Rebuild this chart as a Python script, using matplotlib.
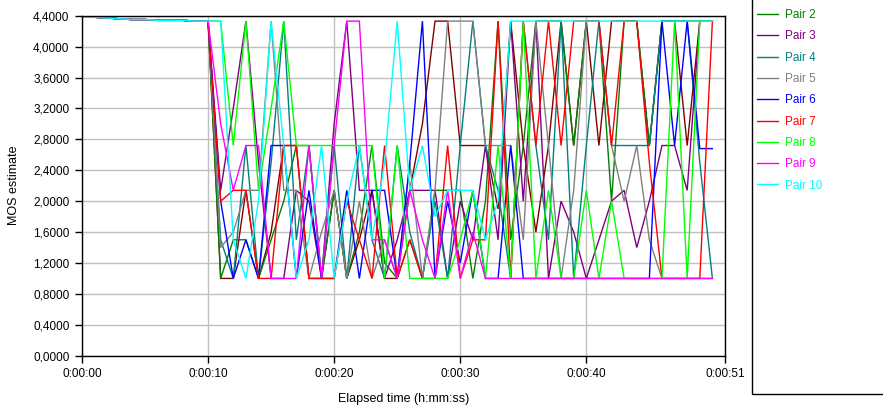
import matplotlib
matplotlib.use("Agg")
import matplotlib.pyplot as plt
from matplotlib.patches import Rectangle

# ---------------- data ----------------
times = list(range(0, 51))  # seconds
lead = [4.38, 4.38, 4.37, 4.36, 4.35, 4.35, 4.34, 4.34, 4.34, 4.33, 4.33]  # t = 0..10 (all pairs)

pair1 = [1.0, 1.0, 2.14, 1.0, 1.6, 2.72, 2.72, 1.0, 1.0, 2.14, 1.0, 1.5, 2.14, 1.0, 1.0, 2.14, 3.0, 4.33, 4.33, 2.72,
         2.72, 2.72, 1.9, 4.33, 2.72, 1.6, 2.72, 4.33, 2.72, 4.33, 2.72, 4.33, 4.33, 4.33, 2.72, 4.33, 4.33, 2.72, 4.33, 4.33]
pair2 = [1.0, 1.5, 1.5, 1.0, 1.5, 2.0, 2.72, 2.72, 1.0, 2.14, 1.0, 1.6, 2.72, 1.2, 1.0, 1.5, 1.0, 2.14, 2.14, 2.14,
         1.0, 2.0, 4.33, 1.5, 2.72, 4.33, 4.33, 4.33, 2.72, 4.33, 4.33, 2.0, 4.33, 4.33, 2.72, 4.33, 4.33, 4.33, 4.33, 4.33]
pair3 = [2.14, 3.2, 4.33, 2.5, 1.0, 1.0, 2.14, 2.0, 1.0, 3.0, 4.33, 2.14, 2.14, 1.0, 1.5, 2.14, 2.14, 2.14, 1.0, 2.0,
         1.5, 2.72, 1.5, 4.33, 2.0, 4.33, 1.0, 2.0, 1.6, 1.0, 1.5, 2.0, 2.14, 1.4, 2.0, 2.72, 2.72, 2.14, 4.33, 4.33]
pair4 = [1.5, 1.0, 2.72, 1.0, 2.5, 4.33, 1.5, 2.72, 1.0, 2.72, 1.0, 2.72, 1.5, 1.0, 2.72, 1.6, 1.0, 2.0, 1.0, 2.72,
         4.33, 2.72, 2.14, 1.0, 4.33, 2.72, 1.5, 4.33, 1.0, 2.72, 4.33, 2.72, 2.72, 2.72, 2.72, 4.33, 4.33, 4.33, 2.5, 1.0]
pair5 = [1.4, 1.6, 2.14, 2.14, 4.33, 2.14, 2.14, 1.0, 1.6, 2.14, 1.0, 2.0, 1.0, 1.5, 1.0, 2.5, 1.0, 2.14, 4.33, 4.33,
         4.33, 2.72, 2.72, 2.72, 1.5, 4.33, 2.72, 1.0, 2.14, 4.33, 4.33, 2.72, 2.0, 2.72, 1.5, 1.0, 1.0, 1.0, 1.0, 1.0]
pair6 = [2.0, 1.0, 1.5, 1.0, 2.72, 2.72, 1.0, 2.14, 1.0, 1.0, 2.14, 1.0, 2.14, 2.14, 1.0, 2.5, 4.33, 1.0, 2.0, 1.2,
         2.14, 1.0, 1.0, 2.72, 1.0, 1.0, 1.0, 1.0, 1.0, 1.0, 1.0, 1.0, 1.0, 1.0, 1.0, 4.33, 2.72, 4.33, 2.68, 2.68]
pair7 = [2.0, 2.14, 2.14, 1.0, 1.0, 2.72, 2.72, 1.0, 1.0, 1.0, 2.0, 1.5, 1.0, 2.72, 1.0, 1.5, 1.0, 1.0, 2.72, 1.0,
         1.5, 1.5, 4.33, 1.0, 4.33, 2.72, 4.33, 2.72, 4.33, 4.33, 4.33, 2.72, 4.33, 4.33, 2.5, 1.0, 1.0, 1.0, 1.0, 4.33]
pair8 = [4.33, 2.72, 4.33, 2.14, 3.2, 4.33, 2.72, 2.72, 2.72, 2.72, 2.72, 2.72, 2.72, 1.0, 2.72, 1.0, 1.0, 1.0, 1.0, 1.5,
         2.14, 1.0, 2.72, 1.0, 4.33, 1.0, 2.14, 1.0, 1.0, 2.14, 1.0, 2.0, 1.0, 1.0, 1.0, 1.0, 4.33, 1.0, 4.33, 4.33]
pair9 = [3.0, 2.14, 2.72, 2.72, 1.0, 1.0, 1.0, 2.72, 1.0, 2.72, 4.33, 4.33, 1.5, 1.5, 1.0, 2.14, 1.5, 1.0, 2.14, 1.0,
         1.6, 1.0, 1.0, 1.0, 1.0, 1.0, 1.0, 1.0, 1.0, 1.0, 1.0, 1.0, 1.0, 1.0, 1.0, 1.0, 1.0, 1.0, 1.0, 1.0]
pair10 = [4.33, 1.5, 1.0, 2.0, 4.33, 2.72, 1.0, 1.5, 2.72, 1.0, 2.0, 2.72, 1.5, 2.5, 4.33, 2.14, 2.72, 1.8, 2.14, 2.14,
          2.14, 1.5, 2.0, 4.33, 4.33, 4.33, 4.33, 4.33, 4.33, 4.33, 4.33, 4.33, 4.33, 4.33, 4.33, 4.33, 4.33, 4.33, 4.33, 4.33]

series_names = ["Pair 1", "Pair 2", "Pair 3", "Pair 4", "Pair 5",
                "Pair 6", "Pair 7", "Pair 8", "Pair 9", "Pair 10"]
series_values = [pair1, pair2, pair3, pair4, pair5, pair6, pair7, pair8, pair9, pair10]
series_colors = ["#800000", "#008000", "#800080", "#008080", "#808080",
                 "#0000FF", "#FF0000", "#00FF00", "#FF00FF", "#00FFFF"]
legend_shown = ["Pair 2", "Pair 3", "Pair 4", "Pair 5", "Pair 6",
                "Pair 7", "Pair 8", "Pair 9", "Pair 10"]  # Pair 1 lies above the visible area

y_ticks = [0.0, 0.4, 0.8, 1.2, 1.6, 2.0, 2.4, 2.8, 3.2, 3.6, 4.0, 4.4]
x_ticks = [0, 10, 20, 30, 40, 51]
x_tick_labels = ["0:00:00", "0:00:10", "0:00:20", "0:00:30", "0:00:40", "0:00:51"]

# ---------------- figure ----------------
plt.rcParams['font.family'] = ['Liberation Sans', 'DejaVu Sans']
W, H = 883, 405
fig = plt.figure(figsize=(W / 100, H / 100), dpi=100)
ax = fig.add_axes([82 / W, 1 - 355.7 / H, (725 - 82) / W, (355.7 - 15.7) / H])

for name, vals, col in zip(series_names, series_values, series_colors):
    lab = name if name in legend_shown else "_" + name
    ax.plot(times, lead + vals, color=col, lw=1.0, label=lab, solid_joinstyle='miter')

ax.set_xlim(0, 51)
ax.set_ylim(0, 4.4)
ax.set_yticks(y_ticks)
ax.set_yticklabels([f"{v:.4f}".replace(".", ",") for v in y_ticks])
ax.set_xticks(x_ticks)
ax.set_xticklabels(x_tick_labels)
ax.tick_params(axis='both', labelsize=8.5, length=5, width=1, color='black', direction='out', pad=4)
ax.grid(True, color='#c0c0c0', lw=1.0)
ax.set_axisbelow(True)
for sp in ax.spines.values():
    sp.set_color('black')
    sp.set_linewidth(1.0)

ax.set_ylabel("MOS estimate", fontsize=9)
ax.set_xlabel("Elapsed time (h:mm:ss)", fontsize=9)
ax.yaxis.set_label_coords((20 - 82) / 643, 0.5)
ax.xaxis.set_label_coords(0.5, -(393 - 355.7) / 340)

# legend box (extends beyond figure at top/right)
fig.add_artist(Rectangle((752 / W, 1 - 394 / H), 0.5, 1.2, transform=fig.transFigure,
                         facecolor='white', edgecolor='black', lw=1.0, clip_on=False))
leg = fig.legend(loc='upper left', bbox_to_anchor=(757 / W, 1 - 9 / H), bbox_transform=fig.transFigure,
                 frameon=False, fontsize=8.5, handlelength=1.8, handletextpad=0.6,
                 labelspacing=0.79, borderpad=0, borderaxespad=0, labelcolor='linecolor')

fig.savefig("out.png", dpi=100)
